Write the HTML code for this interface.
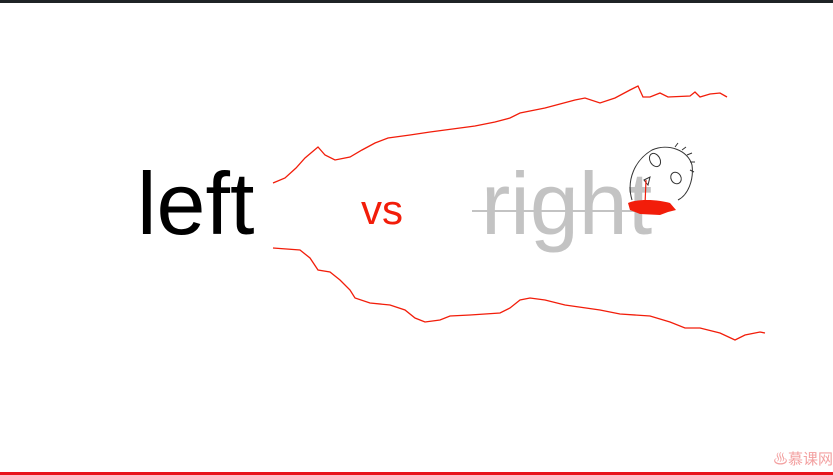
<!DOCTYPE html>
<html><head><meta charset="utf-8"><style>
html,body{margin:0;padding:0;background:#fff;}
#root{position:relative;width:833px;height:475px;overflow:hidden;background:#fff;font-family:"Liberation Sans","Noto Sans CJK SC",sans-serif;}
.t{position:absolute;line-height:1;white-space:nowrap;}
</style></head><body>
<div id="root">
<div style="position:absolute;left:0;top:0;width:833px;height:3px;background:#1f2326"></div>
<div class="t" style="left:137px;top:160px;font-size:88px;color:#000">left</div>
<div class="t" style="left:361px;top:189px;font-size:42px;color:#f21d0a">vs</div>
<div class="t" style="left:481px;top:160px;font-size:88px;color:#c3c3c3">right</div>
<svg width="833" height="475" style="position:absolute;left:0;top:0">
<line x1="472" y1="211" x2="668" y2="211" stroke="#c3c3c3" stroke-width="2"/>
<polyline fill="none" stroke="#f21d0a" stroke-width="1.3" points="273,183 285,178 296,168 305,158 318,147 325,155 335,160 350,157 362,150 375,143 388,138 410,135 430,132 445,130 460,128 475,126 495,122 510,118 520,113 535,110 545,108 560,104 575,100 585,98 600,103 615,98 630,90 638,86 643,97 650,97 660,93 668,97 690,96 695,92 700,97 710,94 720,93 727,97"/>
<polyline fill="none" stroke="#f21d0a" stroke-width="1.3" points="273,248 300,250 310,258 318,270 330,272 340,280 350,290 355,298 370,303 390,305 405,310 415,318 425,322 440,320 450,316 470,315 500,313 510,308 520,300 530,298 545,300 565,305 600,310 620,314 650,316 670,322 685,328 700,328 720,333 735,340 745,335 760,332 765,333"/>
<g fill="none" stroke="#333" stroke-width="1">
<path d="M632,200 C626,180 635,160 652,150 C668,143 688,150 692,165 C694,180 688,195 678,200"/>
<ellipse cx="655" cy="160" rx="5" ry="7" transform="rotate(-30 655 160)"/>
<ellipse cx="676" cy="178" rx="5" ry="6" transform="rotate(-30 676 178)"/>
<path d="M644,180 L650,177 L648,185 Z"/>
<path d="M675,147 l3,-4 M682,150 l4,-3 M687,155 l5,-2 M690,162 l5,0 M690,170 l4,2"/>
</g>
<path d="M628,203 C640,198 660,200 670,203 L676,210 L668,212 L660,215 L640,214 L630,210 Z" fill="#f21d0a"/>
<line x1="646" y1="180" x2="645" y2="205" stroke="#f21d0a" stroke-width="1.2"/>
</svg>
<div class="t" style="left:773px;top:452px;font-size:15px;color:#f3a0a0">♨慕课网</div>
<div style="position:absolute;left:0;top:472px;width:833px;height:3px;background:#e8141c"></div>
</div>
</body></html>
